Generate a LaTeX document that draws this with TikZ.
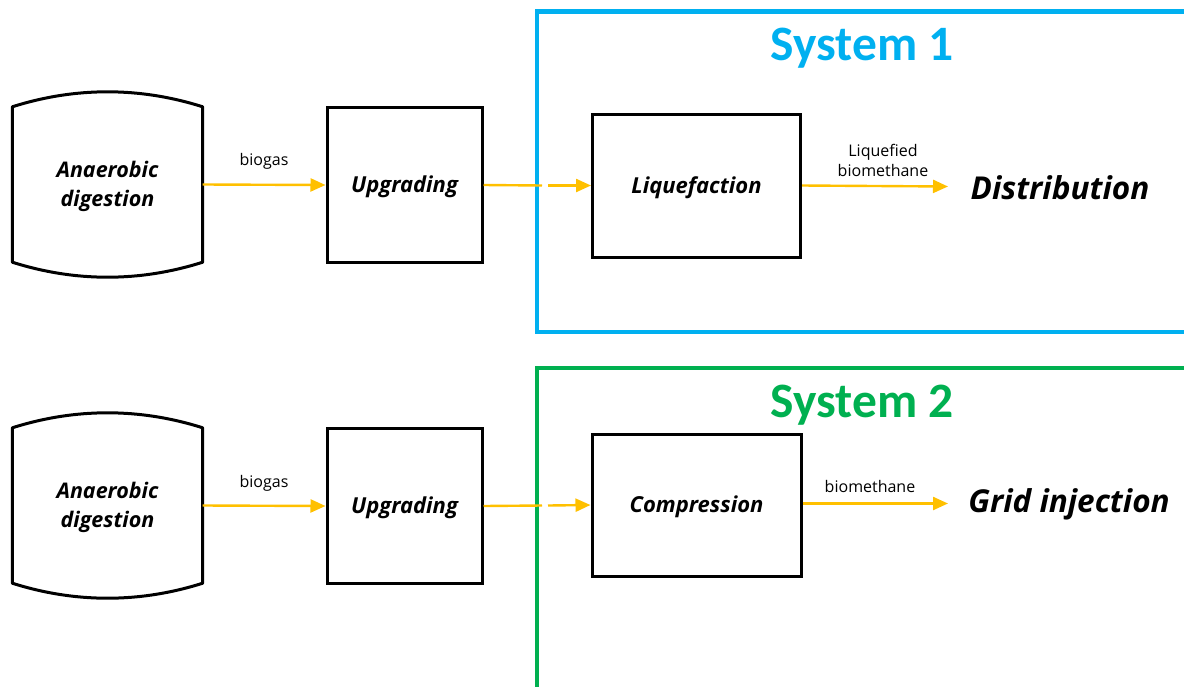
\documentclass[tikz,border=0pt]{standalone}
\usepackage{fontspec}
\newfontfamily\opensans{Open Sans}
\newfontfamily\carlito{Carlito}
\usetikzlibrary{arrows.meta}
\definecolor{sysblue}{RGB}{0,176,240}
\definecolor{sysgreen}{RGB}{0,176,80}
\definecolor{flowc}{RGB}{255,192,0}
\begin{document}
\begin{tikzpicture}[x=1pt,y=-1pt,
  procbox/.style={draw=black, line width=3pt, inner sep=0pt, align=center,
    text height=20.5pt, text depth=5.5pt,
    font=\opensans\bfseries\itshape\fontsize{22}{29}\selectfont},
  adbox/.style={draw=none, inner sep=0pt, minimum width=190pt, minimum height=155pt,
    align=center, font=\opensans\bfseries\itshape\fontsize{21.5}{29}\selectfont},
  adline/.style={draw=black, line width=3pt, line join=round},
  flow/.style={draw=flowc, line width=2.4pt},
  flowarrow/.style={flow, -{Triangle[length=15pt,width=13pt]}},
  flowlabel/.style={inner sep=0pt, align=center, font=\opensans\fontsize{16}{20}\selectfont},
  endtext/.style={inner sep=0pt, font=\opensans\bfseries\itshape\fontsize{31.5}{36}\selectfont},
  systitle/.style={inner sep=0pt, font=\carlito\bfseries\fontsize{49.5}{56}\selectfont},
  sysframe/.style={line width=4.5pt}
]
\useasboundingbox (0,0) rectangle (1184,686);
\clip (0,0) rectangle (1184,686);

% system frames
\draw[sysframe, draw=sysblue] (1200,11.5) -- (537,11.5) -- (537,332) -- (1200,332);
\draw[sysframe, draw=sysgreen] (1200,368) -- (537,368) -- (537,700);
\node[systitle, text=sysblue] (sys1) at (862,48) {System 1};
\node[systitle, text=sysgreen] (sys2) at (862,405) {System 2};

% row 1
\node[adbox] (ad1) at (107.5,184.5) {\rule{0pt}{20pt}Anaerobic\\digestion};
\draw[adline] (ad1.north west) .. controls +(63,-20) and +(-63,-20) .. (ad1.north east)
  -- (ad1.south east) .. controls +(-63,20) and +(63,20) .. (ad1.south west) -- cycle;
\node[procbox, minimum width=155pt, minimum height=155pt] (up1) at (404.5,185) {Upgrading};
\node[procbox, minimum width=208pt, minimum height=143pt] (liq) at (696.5,185.5) {Liquefaction};
\node[endtext] (dist) at (1060,188) {Distribution};
\coordinate (g1a) at (542,185.5);
\coordinate (g1b) at (548,185.5);
\coordinate (e1) at (948,186.5);
\draw[flowarrow] (ad1.east) -- (up1.west);
\draw[flow] (up1.east) -- (g1a);
\draw[flowarrow] (g1b) -- (liq.west);
\draw[flowarrow] (liq.east) -- (e1);
\node[flowlabel] (lb1) at (264,161) {biogas};
\node[flowlabel] (lb2) at (883,160) {Liquefied\\biomethane};

% row 2
\node[adbox] (ad2) at (107.5,505.5) {\rule{0pt}{20pt}Anaerobic\\digestion};
\draw[adline] (ad2.north west) .. controls +(63,-20) and +(-63,-20) .. (ad2.north east)
  -- (ad2.south east) .. controls +(-63,20) and +(63,20) .. (ad2.south west) -- cycle;
\node[procbox, minimum width=155pt, minimum height=155pt] (up2) at (404.5,506) {Upgrading};
\node[procbox, minimum width=209pt, minimum height=142pt] (comp) at (696.5,505) {Compression};
\node[endtext] (grid) at (1069,504) {Grid injection};
\coordinate (g2a) at (542,505.5);
\coordinate (g2b) at (548,505.5);
\coordinate (e2) at (948,503.5);
\draw[flowarrow] (ad2.east) -- (up2.west);
\draw[flow] (up2.east) -- (g2a);
\draw[flowarrow] (g2b) -- (comp.west);
\draw[flowarrow] (comp.east |- e2) -- (e2);
\node[flowlabel] (lb3) at (264,483) {biogas};
\node[flowlabel] (lb4) at (870,486) {biomethane};
\end{tikzpicture}
\end{document}
